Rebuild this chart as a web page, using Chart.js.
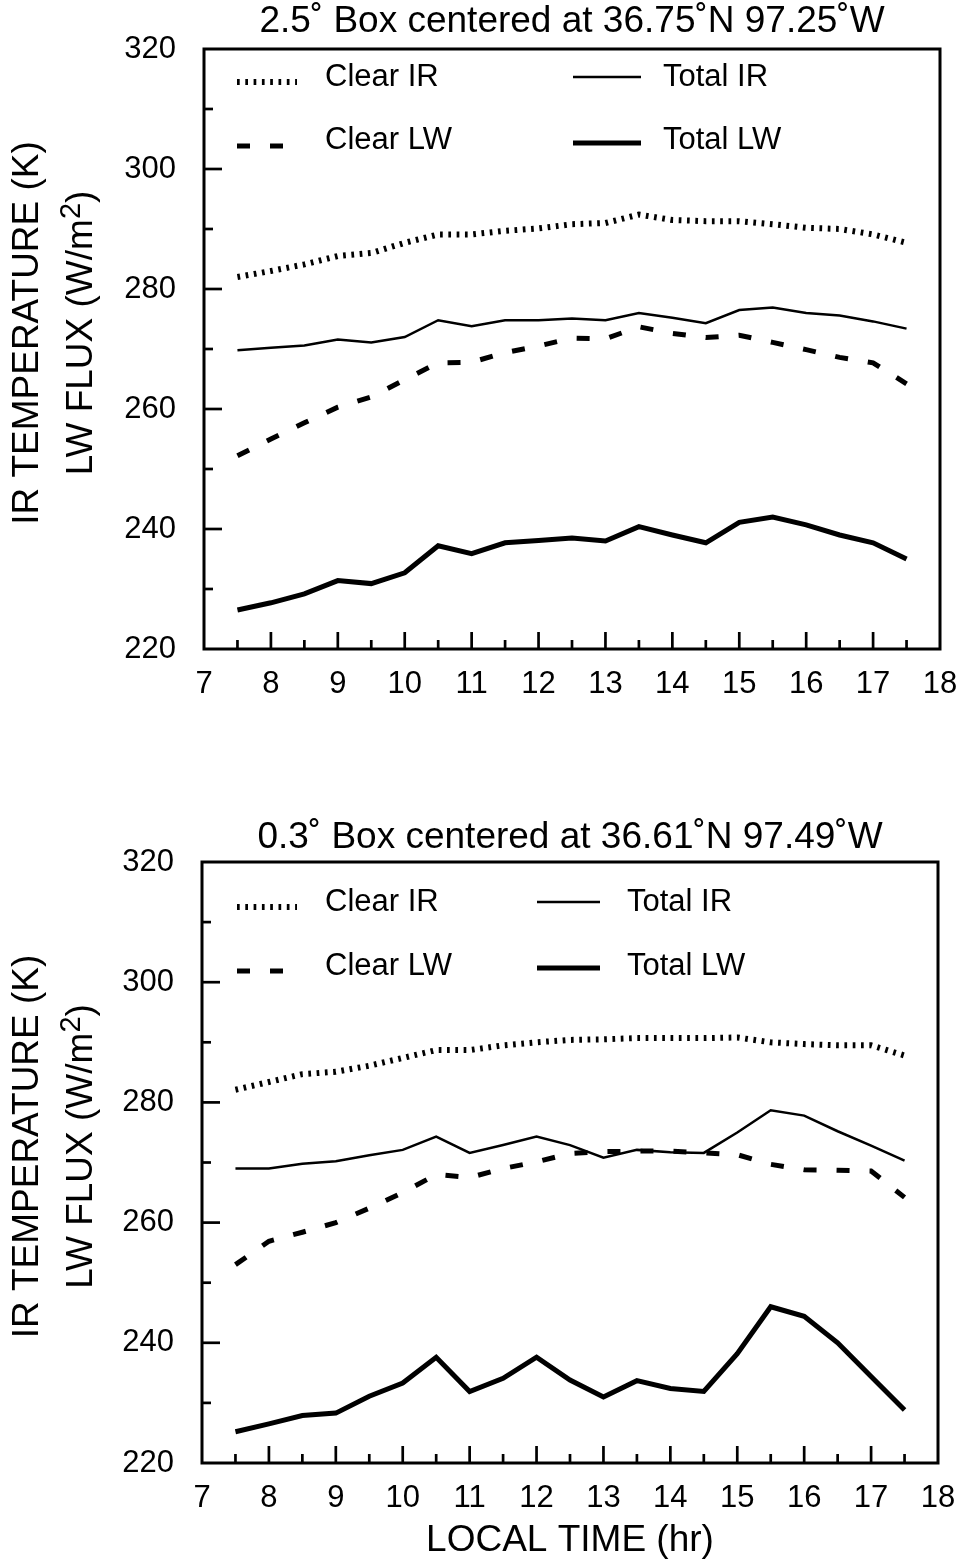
<!DOCTYPE html>
<html><head><meta charset="utf-8">
<script src="https://cdn.jsdelivr.net/npm/chart.js@4/dist/chart.umd.min.js"></script>
<style>
html,body{margin:0;padding:0;background:#fff;}
#wrap{position:relative;width:963px;height:1564px;background:#fff;}
canvas{position:absolute;left:0;}
</style></head><body>
<div id="wrap">
<canvas id="c1" width="963" height="760" style="top:0px;width:963px;height:760px"></canvas>
<canvas id="c2" width="963" height="804" style="top:760px;width:963px;height:804px"></canvas>
</div>
<script>
// ---- data ----
const localTime = [7.5, 8, 8.5, 9, 9.5, 10, 10.5, 11, 11.5, 12, 12.5, 13, 13.5, 14, 14.5, 15, 15.5, 16, 16.5, 17, 17.5];
const seriesNames = ["Clear IR", "Total IR", "Clear LW", "Total LW"];

// 2.5 deg box
const clearIR25 = [282.0, 283.0, 284.1, 285.5, 286.0, 287.7, 289.1, 289.1, 289.7, 290.1, 290.8, 291.0, 292.4, 291.5, 291.3, 291.3, 290.8, 290.2, 290.0, 289.1, 287.7];
const totalIR25 = [269.8, 270.2, 270.6, 271.6, 271.1, 272.0, 274.8, 273.8, 274.8, 274.8, 275.1, 274.8, 276.0, 275.2, 274.3, 276.5, 276.9, 276.0, 275.6, 274.6, 273.4];
const clearLW25 = [252.2, 255.0, 257.7, 260.3, 262.0, 264.9, 267.7, 267.8, 269.4, 270.5, 271.8, 271.7, 273.7, 272.6, 271.9, 272.3, 271.1, 269.9, 268.6, 267.7, 264.2];
const totalLW25 = [226.5, 227.7, 229.2, 231.4, 230.9, 232.7, 237.2, 235.9, 237.7, 238.1, 238.5, 238.0, 240.4, 239.0, 237.7, 241.1, 242.0, 240.7, 239.0, 237.7, 235.0];

// 0.3 deg box
const clearIR03 = [282.1, 283.4, 284.7, 285.1, 286.1, 287.4, 288.7, 288.7, 289.5, 290.0, 290.4, 290.5, 290.7, 290.7, 290.7, 290.8, 290.0, 289.7, 289.5, 289.5, 287.8];
const totalIR03 = [269.0, 269.0, 269.8, 270.2, 271.2, 272.1, 274.3, 271.6, 272.9, 274.3, 272.9, 270.8, 272.1, 271.7, 271.6, 275.0, 278.7, 277.8, 275.2, 272.8, 270.3];
const clearLW03 = [253.0, 256.9, 258.4, 260.0, 262.4, 265.0, 268.0, 267.5, 269.0, 270.1, 271.5, 271.8, 271.9, 271.9, 271.6, 271.3, 269.7, 268.8, 268.7, 268.6, 264.2];
const totalLW03 = [225.2, 226.5, 227.9, 228.3, 231.1, 233.3, 237.6, 231.9, 234.1, 237.6, 233.8, 231.0, 233.7, 232.4, 231.9, 238.2, 246.0, 244.4, 240.0, 234.4, 228.8];

// axes
const xMin = 7, xMax = 18, xStep = 1, xMinorStep = 0.5;
const yMin = 220, yMax = 320, yStep = 20, yMinorStep = 10;

const titles = ["2.5\u02DA Box centered at 36.75\u02DAN 97.25\u02DAW", "0.3\u02DA Box centered at 36.61\u02DAN 97.49\u02DAW"];
const yTitleLine1 = "IR TEMPERATURE (K)";
const yTitleLine2 = ["LW FLUX (W/m", "2", ")"];
const xTitle = "LOCAL TIME (hr)";

const FONT = "'Liberation Sans', Arial, Helvetica, sans-serif";

// ---- styles ----
const styles = [
  {borderWidth: 6, borderDash: [2.7, 5.6]},   // Clear IR
  {borderWidth: 2.5, borderDash: []},         // Total IR
  {borderWidth: 5, borderDash: [13, 20]},     // Clear LW
  {borderWidth: 5, borderDash: []}            // Total LW
];

function frameDrawer(opts) {
  return {
    id: 'frame',
    afterDraw(chart) {
      const ctx = chart.ctx, a = chart.chartArea;
      const xs = chart.scales.x, ys = chart.scales.y;
      ctx.save();
      ctx.strokeStyle = '#000';
      ctx.fillStyle = '#000';
      // box
      ctx.lineWidth = 3;
      ctx.strokeRect(a.left, a.top, a.right - a.left, a.bottom - a.top);
      // y ticks (inward)
      ctx.lineWidth = 2.7;
      for (let v = yMin + yMinorStep; v < yMax; v += yMinorStep) {
        const y = ys.getPixelForValue(v);
        const len = (Math.round(v - yMin) % yStep === 0) ? 18 : 9;
        ctx.beginPath(); ctx.moveTo(a.left, y); ctx.lineTo(a.left + len, y); ctx.stroke();
      }
      // x ticks (inward)
      for (let v = xMin + xMinorStep; v < xMax; v += xMinorStep) {
        const x = xs.getPixelForValue(v);
        const len = (Math.abs(v - Math.round(v)) < 1e-6) ? 17 : 9;
        ctx.beginPath(); ctx.moveTo(x, a.bottom); ctx.lineTo(x, a.bottom - len); ctx.stroke();
      }
      // title
      ctx.font = "37px " + FONT;
      ctx.textAlign = 'center';
      ctx.textBaseline = 'middle';
      ctx.fillText(opts.title, (a.left + a.right) / 2, opts.titleY);
      // y-axis title (two rotated lines)
      const cy = (a.top + a.bottom) / 2 - 16;
      ctx.save();
      ctx.translate(28, cy);
      ctx.rotate(-Math.PI / 2);
      ctx.font = "37px " + FONT;
      ctx.textAlign = 'center';
      ctx.fillText(yTitleLine1, 0, 0);
      ctx.restore();
      ctx.save();
      ctx.translate(82, cy);
      ctx.rotate(-Math.PI / 2);
      ctx.textAlign = 'left';
      ctx.font = "37px " + FONT;
      const w1 = ctx.measureText(yTitleLine2[0]).width;
      const w3 = ctx.measureText(yTitleLine2[2]).width;
      ctx.font = "29px " + FONT;
      const w2 = ctx.measureText(yTitleLine2[1]).width;
      let sx = -(w1 + w2 + w3) / 2;
      ctx.font = "37px " + FONT;
      ctx.fillText(yTitleLine2[0], sx, 0); sx += w1;
      ctx.font = "29px " + FONT;
      ctx.fillText(yTitleLine2[1], sx, -10); sx += w2;
      ctx.font = "37px " + FONT;
      ctx.fillText(yTitleLine2[2], sx, 0);
      ctx.restore();
      // legend
      ctx.font = "31px " + FONT;
      ctx.textAlign = 'left';
      chart.data.datasets.forEach((ds, i) => {
        const L = opts.legend[i];
        ctx.save();
        ctx.lineWidth = ds.borderWidth;
        ctx.setLineDash(ds.borderDash || []);
        ctx.lineCap = 'butt';
        ctx.beginPath();
        ctx.moveTo(a.left + L.x1, a.top + L.y + L.dy);
        ctx.lineTo(a.left + L.x2, a.top + L.y + L.dy);
        ctx.stroke();
        ctx.restore();
        ctx.fillText(ds.label, a.left + L.tx, a.top + L.y);
      });
      ctx.restore();
    }
  };
}

function makeChart(id, title, values, cfg) {
  const datasets = values.map((vals, i) => ({
    label: seriesNames[i],
    data: localTime.map((t, k) => ({x: t, y: vals[k]})),
    borderColor: '#000',
    backgroundColor: '#000',
    borderWidth: styles[i].borderWidth,
    borderDash: styles[i].borderDash,
    borderCapStyle: 'butt',
    borderJoinStyle: 'miter',
    pointRadius: 0,
    tension: 0,
    fill: false
  }));
  return new Chart(document.getElementById(id), {
    type: 'line',
    data: {datasets},
    options: {
      responsive: false,
      animation: false,
      devicePixelRatio: 1,
      layout: {padding: {top: cfg.top, right: cfg.right, left: 0, bottom: 0}},
      plugins: {legend: {display: false}, title: {display: false}, tooltip: {enabled: false}},
      scales: {
        x: {
          type: 'linear', min: xMin, max: xMax,
          grid: {display: false, drawTicks: false},
          border: {display: false},
          ticks: {stepSize: xStep, color: '#000', padding: cfg.xPad, font: {family: FONT, size: 31}, maxRotation: 0, autoSkip: false},
          title: cfg.xTitle ? {display: true, text: xTitle, color: '#000', font: {family: FONT, size: 37, lineHeight: 1.2}, padding: {top: 0, bottom: cfg.xTitlePad}} : {display: false},
          afterFit: (s) => { s.height = cfg.xHeight; s.paddingLeft = 0; s.paddingRight = 0; s.paddingTop = 0; s.paddingBottom = 0; }
        },
        y: {
          type: 'linear', min: yMin, max: yMax,
          grid: {display: false, drawTicks: false},
          border: {display: false},
          ticks: {stepSize: yStep, color: '#000', padding: 28, font: {family: FONT, size: 31}},
          title: {display: false},
          afterFit: (s) => { s.width = cfg.left; s.paddingLeft = 0; s.paddingRight = 0; s.paddingTop = 0; s.paddingBottom = 0; }
        }
      }
    },
    plugins: [frameDrawer({title: title, titleY: cfg.titleY, legend: cfg.legend})]
  });
}

makeChart('c1', titles[0], [clearIR25, totalIR25, clearLW25, totalLW25], {
  top: 49, right: 963 - 940, left: 204, xHeight: 760 - 649, xPad: 17, xTitle: false,
  titleY: 22,
  legend: [
    {x1: 33, x2: 93, tx: 121, y: 28, dy: 5},
    {x1: 369, x2: 437, tx: 459, y: 28, dy: 0},
    {x1: 33, x2: 93, tx: 121, y: 91, dy: 6},
    {x1: 369, x2: 437, tx: 459, y: 91, dy: 3}
  ]
});

makeChart('c2', titles[1], [clearIR03, totalIR03, clearLW03, totalLW03], {
  top: 102, right: 963 - 938, left: 202, xHeight: 804 - 703, xPad: 17, xTitle: true, xTitlePad: 1,
  titleY: 78,
  legend: [
    {x1: 35, x2: 95, tx: 123, y: 40, dy: 5},
    {x1: 335, x2: 398, tx: 425, y: 40, dy: 0},
    {x1: 35, x2: 95, tx: 123, y: 104, dy: 5},
    {x1: 335, x2: 398, tx: 425, y: 104, dy: 2}
  ]
});
</script>
</body></html>
